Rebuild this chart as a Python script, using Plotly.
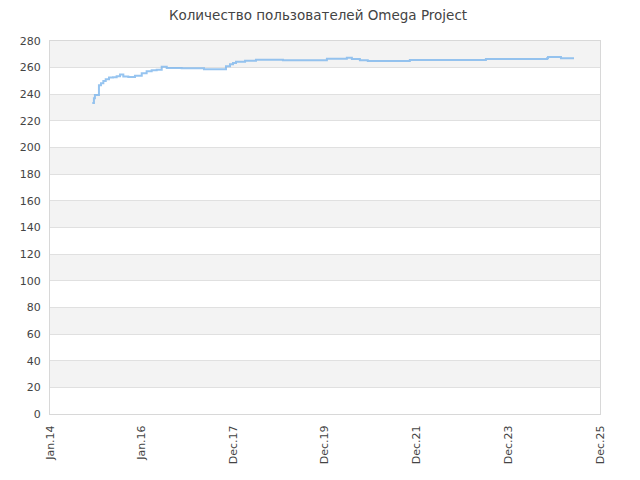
import plotly.graph_objects as go

# user counts over time
dates = ['2014-12-04', '2014-12-17', '2014-12-25', '2015-01-26', '2015-02-11', '2015-03-02',
         '2015-03-21', '2015-04-16', '2015-05-18', '2015-06-16', '2015-07-13', '2015-08-08',
         '2015-09-17', '2015-11-09', '2016-01-02', '2016-02-10', '2016-03-21', '2016-04-30',
         '2016-06-09', '2016-07-19', '2016-11-15', '2017-05-12', '2017-11-03', '2017-12-05',
         '2017-12-29', '2018-01-22', '2018-04-04', '2018-06-30', '2019-01-31', '2020-01-16',
         '2020-06-23', '2020-08-02', '2020-10-05', '2020-12-07', '2021-11-07', '2023-07-06',
         '2024-11-04', '2024-11-12', '2025-02-23', '2025-06-07']
users = [233.5, 237, 239.4, 246.8, 248.3, 250, 251.3, 252.6, 252.8, 253.5, 254.8, 253.3,
         253, 254, 255.8, 257.2, 258, 258.5, 260.7, 259.7, 259.5, 258.7, 261, 262.5,
         263.4, 264.5, 265.2, 266, 265.5, 266.6, 267.4, 266.5, 265.6, 264.9, 265.8, 266.4,
         267, 267.9, 267, 267]

x_tick_vals = ['2014-01-01', '2016-01-01', '2017-12-31', '2019-12-31', '2021-12-31',
               '2023-12-31', '2025-12-31']
x_tick_text = ['Jan.14', 'Jan.16', 'Dec.17', 'Dec.19', 'Dec.21', 'Dec.23', 'Dec.25']
y_ticks = list(range(0, 281, 20))

fig = go.Figure()
fig.add_trace(go.Scatter(x=dates, y=users, mode='lines', line_shape='hv',
                         line=dict(color='rgba(124,181,236,0.8)', width=2),
                         hoverinfo='x+y', showlegend=False))

# alternating bands
for i in range(len(y_ticks) - 1):
    if i % 2 == 1:
        fig.add_shape(type='rect', xref='paper', yref='y', x0=0, x1=1,
                      y0=y_ticks[i], y1=y_ticks[i + 1], fillcolor='#f3f3f3',
                      line_width=0, layer='below')

# page body has an 8px margin, so the figure is made 8px smaller to fit the window
fig.update_layout(
    width=632, height=472,
    margin=dict(l=42, r=40, t=33, b=66),
    paper_bgcolor='white', plot_bgcolor='white',
    font=dict(family='DejaVu Sans, sans-serif', size=11, color='#444444'),
    title=dict(text='Количество пользователей Omega Project', x=0.4905, xanchor='center',
               yref='container', y=0.995, yanchor='top', pad=dict(t=0, b=0),
               font=dict(size=13.5, color='#444444')),
    xaxis=dict(type='date', range=['2014-01-01', '2025-12-31'], tickmode='array',
               tickvals=x_tick_vals, ticktext=x_tick_text, tickangle=-90,
               showgrid=False, zeroline=False, showline=True, linecolor='#d8d8d8',
               mirror=True, ticks='', automargin=False, ticklabelstandoff=6,
               tickfont=dict(size=11, color='#444444')),
    yaxis=dict(range=[0, 280], tickmode='array', tickvals=y_ticks, showgrid=True,
               gridcolor='#e0e0e0', gridwidth=1, zeroline=False, showline=True,
               linecolor='#d8d8d8', mirror=True, ticks='', automargin=False,
               ticklabelstandoff=6, tickfont=dict(size=11, color='#444444')),
)

fig.write_html("out.html")
